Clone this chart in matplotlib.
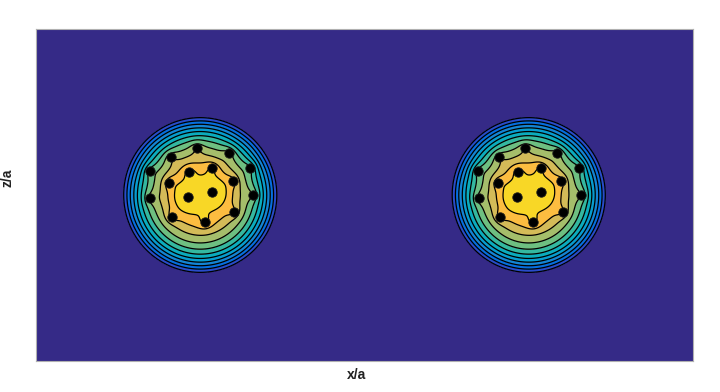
import numpy as np
import matplotlib
matplotlib.use("Agg")
import matplotlib.pyplot as plt
from matplotlib.colors import LinearSegmentedColormap

# ---- data ----
blob_x = [0.5, 1.5]          # blob centres (x/a)
blob_z = [0.5, 0.5]          # blob centres (z/a)
blob_radius = 0.233          # outer radius of the density cloud
# atom positions relative to blob centre
atom_dx = [-0.010, -0.090, 0.087, -0.154, 0.152, -0.033, 0.036, -0.095,
           0.099, -0.152, 0.160, -0.036, 0.037, -0.087, 0.103, 0.014]
atom_dz = [0.143, 0.114, 0.126, 0.072, 0.082, 0.069, 0.080, 0.037,
           0.042, -0.010, 0.000, -0.005, 0.008, -0.065, -0.051, -0.081]
atom_weight = [0.07, 0.07, 0.07, 0.07, 0.07, 0.06, 0.06, 0.06,
               0.06, 0.07, 0.07, 0.18, 0.18, 0.06, 0.06, 0.06]
atom_width = [0.015, 0.015, 0.015, 0.015, 0.015, 0.015, 0.015, 0.015,
              0.015, 0.015, 0.015, 0.025, 0.025, 0.015, 0.015, 0.015]
profile_power = 2.6
line_levels = [0.0, 0.106, 0.208, 0.308, 0.403, 0.502, 0.604, 0.712, 0.817, 0.902, 0.985]

parula_data = [
[0.2081,0.1663,0.5292],[0.2116,0.1898,0.5777],[0.2123,0.2138,0.6270],[0.2081,0.2386,0.6771],
[0.1959,0.2645,0.7279],[0.1707,0.2919,0.7792],[0.1253,0.3242,0.8303],[0.0591,0.3598,0.8683],
[0.0117,0.3875,0.8820],[0.0060,0.4086,0.8828],[0.0165,0.4266,0.8786],[0.0329,0.4430,0.8720],
[0.0498,0.4586,0.8641],[0.0629,0.4737,0.8554],[0.0723,0.4887,0.8467],[0.0779,0.5040,0.8384],
[0.0793,0.5200,0.8312],[0.0749,0.5375,0.8263],[0.0641,0.5570,0.8240],[0.0488,0.5772,0.8228],
[0.0343,0.5966,0.8199],[0.0265,0.6137,0.8135],[0.0239,0.6287,0.8038],[0.0231,0.6418,0.7913],
[0.0228,0.6535,0.7768],[0.0267,0.6642,0.7607],[0.0384,0.6743,0.7436],[0.0590,0.6838,0.7254],
[0.0843,0.6928,0.7062],[0.1133,0.7015,0.6859],[0.1453,0.7098,0.6646],[0.1801,0.7177,0.6424],
[0.2178,0.7250,0.6193],[0.2586,0.7317,0.5954],[0.3022,0.7376,0.5712],[0.3482,0.7424,0.5473],
[0.3953,0.7459,0.5244],[0.4420,0.7481,0.5033],[0.4871,0.7491,0.4840],[0.5300,0.7491,0.4661],
[0.5709,0.7485,0.4494],[0.6099,0.7473,0.4337],[0.6473,0.7456,0.4188],[0.6834,0.7435,0.4044],
[0.7184,0.7411,0.3905],[0.7525,0.7384,0.3768],[0.7858,0.7356,0.3633],[0.8185,0.7327,0.3498],
[0.8507,0.7299,0.3360],[0.8824,0.7274,0.3217],[0.9139,0.7258,0.3063],[0.9450,0.7261,0.2886],
[0.9739,0.7314,0.2666],[0.9938,0.7455,0.2403],[0.9990,0.7653,0.2164],[0.9955,0.7861,0.1967],
[0.9880,0.8066,0.1794],[0.9789,0.8271,0.1633],[0.9697,0.8481,0.1475],[0.9626,0.8705,0.1309],
[0.9589,0.8949,0.1132],[0.9598,0.9218,0.0948],[0.9661,0.9514,0.0755],[0.9763,0.9831,0.0538]]
parula = LinearSegmentedColormap.from_list("parula", parula_data)

# ---- field ----
x = np.linspace(0, 2, 1400)
z = np.linspace(0, 1, 700)
X, Z = np.meshgrid(x, z)
F = np.full_like(X, -1.0)
for cx, cz in zip(blob_x, blob_z):
    r = np.hypot(X - cx, Z - cz)
    f = 1 - (r / blob_radius) ** profile_power
    for dx, dz, w, s in zip(atom_dx, atom_dz, atom_weight, atom_width):
        f = f + w * np.exp(-((X - cx - dx) ** 2 + (Z - cz - dz) ** 2) / (2 * s ** 2))
    F = np.maximum(F, f)

n_lines = len(line_levels)
fill_levels = [F.min() - 1] + line_levels + [F.max() + 1]
band_colors = [parula(k / (n_lines + 1)) for k in range(n_lines + 1)]

fig = plt.figure(figsize=(7.2, 3.92), dpi=100)
ax = fig.add_axes([36 / 720, 1 - 361 / 392, (693 - 36) / 720, (361 - 29) / 392])
ax.contourf(X, Z, F, levels=fill_levels, colors=band_colors)
ax.contour(X, Z, F, levels=line_levels, colors="black", linewidths=0.9)

ax_x = [cx + dx for cx in blob_x for dx in atom_dx]
ax_z = [cz + dz for cz in blob_z for dz in atom_dz]
ax.scatter(ax_x, ax_z, s=46, c="black", edgecolors="#1a1a1a", linewidths=0.6, zorder=3)

ax.set_xlim(0, 2)
ax.set_ylim(0, 1)
ax.set_xticks([])
ax.set_yticks([])
for sp in ax.spines.values():
    sp.set_color("#b0b0b0")
    sp.set_linewidth(0.8)

fig.text(356.7 / 720, 1 - 375 / 392, "x/a", ha="center", va="center",
         fontsize=10, fontweight="bold", family="Liberation Sans", color="#222222")
fig.text(8 / 720, 1 - 178 / 392, "z/a", ha="center", va="center", rotation=90,
         fontsize=10, fontweight="bold", family="Liberation Sans", color="#222222")

fig.savefig("out.png", dpi=100)
